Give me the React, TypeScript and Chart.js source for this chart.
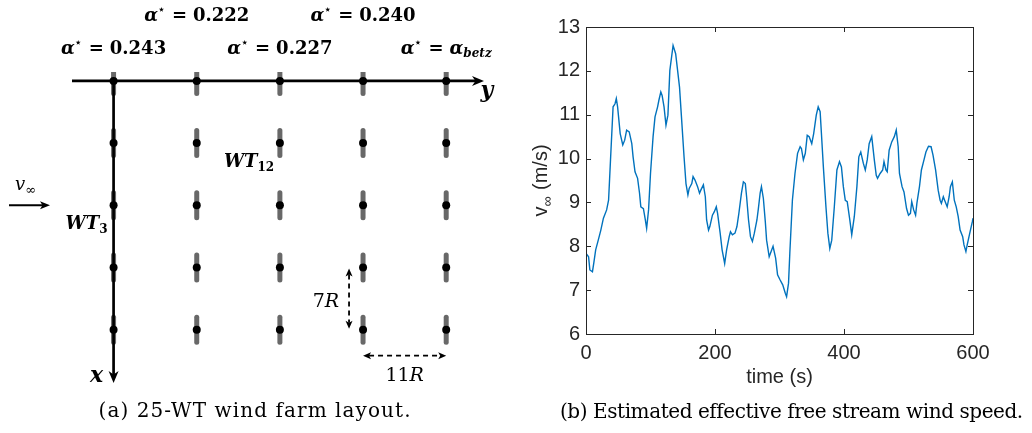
import React, { useEffect, useRef } from "react";
import { Chart, registerables } from "chart.js";

Chart.register(...registerables);

// ---------- data: wind farm layout (positions in rotor radii R) ----------
const LATERAL = [0, 11, 22, 33, 44]; // y direction (columns)
const DOWNSTREAM = [0, 7, 14, 21, 28]; // x direction (rows)
const ALPHA_VALUES = ["0.243", "0.222", "0.227", "0.240", "betz"];

// ---------- data: estimated effective free stream wind speed ----------
const TIME = [
  0, 4, 6, 10, 12, 15, 19, 23, 27, 32, 35, 38, 42, 45, 47, 49, 53, 57, 60, 63,
  67, 71, 73, 76, 80, 83, 85, 89, 92, 94, 97, 100, 104, 107, 111, 113, 116, 118,
  121, 124, 127, 130, 135, 139, 142, 145, 148, 152, 155, 158, 160, 164, 166, 169,
  173, 176, 178, 182, 185, 187, 190, 192, 196, 199, 202, 204, 208, 211, 215, 218,
  222, 224, 227, 231, 234, 237, 241, 244, 247, 249, 252, 255, 258, 261, 265, 267,
  270, 272, 275, 278, 280, 284, 287, 290, 294, 297, 301, 305, 309, 311, 314, 316,
  320, 324, 328, 332, 334, 337, 340, 343, 346, 350, 353, 357, 360, 363, 365, 368,
  372, 375, 378, 381, 385, 389, 393, 396, 399, 402, 405, 409, 412, 416, 420, 423,
  426, 430, 433, 436, 439, 443, 447, 450, 452, 456, 460, 462, 465, 467, 470, 474,
  478, 481, 484, 486, 490, 493, 497, 500, 503, 505, 508, 511, 513, 517, 520, 524,
  527, 531, 535, 538, 542, 546, 549, 551, 554, 556, 560, 563, 565, 568, 571, 574,
  577, 580, 584, 586, 589, 591, 595, 599, 600,
];
const SPEED = [
  7.84, 7.76, 7.46, 7.42, 7.61, 7.92, 8.14, 8.37, 8.64, 8.83, 9.05, 9.97, 11.18,
  11.25, 11.37, 11.18, 10.57, 10.31, 10.42, 10.65, 10.61, 10.34, 10.04, 9.7, 9.55,
  9.21, 8.9, 8.86, 8.6, 8.41, 8.83, 9.66, 10.5, 10.95, 11.18, 11.33, 11.52, 11.44,
  11.18, 10.76, 10.99, 12.01, 12.58, 12.39, 12.01, 11.63, 10.95, 10.04, 9.43, 9.17,
  9.32, 9.43, 9.59, 9.51, 9.36, 9.21, 9.28, 9.4, 9.13, 8.6, 8.37, 8.45, 8.71, 8.79,
  8.9, 8.75, 8.3, 7.92, 7.61, 7.92, 8.22, 8.33, 8.26, 8.3, 8.45, 8.75, 9.21, 9.47,
  9.43, 9.13, 8.6, 8.22, 8.11, 8.3, 8.6, 8.83, 9.21, 9.36, 9.09, 8.56, 8.14, 7.76,
  7.88, 8.0, 7.73, 7.35, 7.23, 7.12, 6.93, 6.85, 7.16, 7.84, 9.05, 9.66, 10.12,
  10.27, 10.23, 9.97, 10.12, 10.53, 10.5, 10.34, 10.57, 10.99, 11.18, 11.07, 10.57,
  9.81, 8.9, 8.3, 7.95, 8.14, 8.9, 9.74, 9.93, 9.81, 9.36, 9.05, 9.02, 8.6, 8.26,
  8.68, 9.36, 10.04, 10.15, 9.89, 9.74, 9.97, 10.34, 10.5, 9.97, 9.62, 9.55, 9.66,
  9.74, 9.93, 9.74, 9.7, 10.19, 10.38, 10.5, 10.65, 10.27, 9.66, 9.36, 9.24, 8.86,
  8.71, 8.75, 9.02, 8.83, 8.71, 8.98, 9.36, 9.74, 9.97, 10.15, 10.28, 10.27, 10.08,
  9.74, 9.28, 9.05, 8.98, 9.13, 9.05, 8.9, 9.13, 9.36, 9.47, 9.05, 8.9, 8.68, 8.37,
  8.22, 8.03, 7.88, 8.03, 8.3, 8.56, 8.64,
];
const X_TICKS = [0, 200, 400, 600];
const Y_TICKS = [6, 7, 8, 9, 10, 11, 12, 13];

// ---------- helpers ----------
type Run = { t: string; f: string; dy?: number; gap?: number };

function drawRuns(
  ctx: CanvasRenderingContext2D,
  runs: Run[],
  x: number,
  y: number,
  align: "left" | "center" | "right"
) {
  ctx.textAlign = "left";
  ctx.textBaseline = "alphabetic";
  let w = 0;
  const ws: number[] = [];
  for (const r of runs) {
    ctx.font = r.f;
    const m = ctx.measureText(r.t).width;
    ws.push(m);
    w += m + (r.gap || 0);
  }
  let cx = align === "center" ? x - w / 2 : align === "right" ? x - w : x;
  runs.forEach((r, i) => {
    ctx.font = r.f;
    ctx.fillText(r.t, cx, y + (r.dy || 0));
    cx += ws[i] + (r.gap || 0);
  });
}

function arrowHead(
  ctx: CanvasRenderingContext2D,
  tipX: number,
  tipY: number,
  dx: number,
  dy: number,
  len: number,
  halfW: number,
  inset: number
) {
  const px = -dy;
  const py = dx;
  const bx = tipX - dx * len;
  const by = tipY - dy * len;
  ctx.beginPath();
  ctx.moveTo(tipX, tipY);
  ctx.lineTo(bx + px * halfW, by + py * halfW);
  ctx.lineTo(tipX - dx * (len - inset), tipY - dy * (len - inset));
  ctx.lineTo(bx - px * halfW, by - py * halfW);
  ctx.closePath();
  ctx.fill();
}

const SERIF = "'DejaVu Serif'";
const SANS = "'Liberation Sans', Arial";
const AXIS_GRAY = "#262626";

function captionText(
  ctx: CanvasRenderingContext2D,
  text: string,
  x: number,
  y: number,
  targetWidth: number
) {
  ctx.save();
  ctx.fillStyle = "#000";
  ctx.font = `20px ${SERIF}`;
  (ctx as any).letterSpacing = "0px";
  const w = ctx.measureText(text).width;
  const sp = (targetWidth - w) / text.length;
  (ctx as any).letterSpacing = `${sp.toFixed(2)}px`;
  ctx.textAlign = "left";
  ctx.textBaseline = "alphabetic";
  ctx.fillText(text, x - targetWidth / 2, y);
  ctx.restore();
}

// ---------- left panel: layout ----------
function LayoutPanel() {
  const ref = useRef<HTMLCanvasElement>(null);
  useEffect(() => {
    const canvas = ref.current!;
    const turbines = LATERAL.flatMap((l) => DOWNSTREAM.map((d) => ({ x: l, y: d })));

    const decor = {
      id: "layoutDecor",
      beforeDatasetDraw(chart: any, args: any) {
        if (args.index === 1) chart.ctx.lineCap = "round";
      },
      afterDatasetDraw(chart: any, args: any) {
        if (args.index !== 1) return;
        const ctx: CanvasRenderingContext2D = chart.ctx;
        ctx.lineCap = "butt";
        const xs = chart.scales.x;
        const ys = chart.scales.y;
        const x0 = xs.getPixelForValue(0);
        const y0 = ys.getPixelForValue(0);
        ctx.save();
        ctx.strokeStyle = "#000";
        ctx.fillStyle = "#000";
        ctx.lineWidth = 2.7;
        // horizontal (y) axis
        const hx1 = xs.getPixelForValue(xs.min);
        const hx2 = xs.getPixelForValue(xs.max);
        ctx.beginPath();
        ctx.moveTo(hx1, y0);
        ctx.lineTo(hx2 - 8, y0);
        ctx.stroke();
        arrowHead(ctx, hx2, y0, 1, 0, 12, 5, 3.5);
        // vertical (x) axis
        const vy2 = ys.getPixelForValue(ys.max);
        ctx.beginPath();
        ctx.moveTo(x0, y0 - 1.3);
        ctx.lineTo(x0, vy2 - 8);
        ctx.stroke();
        arrowHead(ctx, x0, vy2, 0, 1, 12, 5, 3.5);
        ctx.restore();
      },
      afterDraw(chart: any) {
        const ctx: CanvasRenderingContext2D = chart.ctx;
        const xs = chart.scales.x;
        const ys = chart.scales.y;
        const px = (v: number) => xs.getPixelForValue(v);
        const py = (v: number) => ys.getPixelForValue(v);
        ctx.save();
        ctx.fillStyle = "#000";
        ctx.strokeStyle = "#000";

        // alpha labels above columns
        LATERAL.forEach((l, i) => {
          const base = i % 2 === 0 ? 54 : 21;
          const val = ALPHA_VALUES[i];
          const runs: Run[] = [
            { t: "α", f: `bold italic 18px ${SERIF}` },
            { t: "⋆", f: `bold 11px 'DejaVu Sans'`, dy: -8, gap: 7 },
            { t: "=", f: `bold 18px ${SERIF}`, gap: 6 },
          ];
          if (val === "betz") {
            runs.push({ t: "α", f: `bold italic 18px ${SERIF}` });
            runs.push({ t: "betz", f: `bold italic 12px ${SERIF}`, dy: 3 });
          } else {
            runs.push({ t: val, f: `bold 18px ${SERIF}` });
          }
          drawRuns(ctx, runs, px(l), base, "center");
        });

        // axis names
        drawRuns(ctx, [{ t: "y", f: `bold italic 22px ${SERIF}` }], px(xs.max) + 3, py(0) + 16, "center");
        drawRuns(ctx, [{ t: "x", f: `bold italic 22px ${SERIF}` }], px(0) - 17, py(ys.max) - 1, "center");

        // turbine labels
        drawRuns(
          ctx,
          [
            { t: "WT", f: `bold italic 18px ${SERIF}` },
            { t: "12", f: `bold 12px ${SERIF}`, dy: 4 },
          ],
          px(LATERAL[2]) - 56,
          py(DOWNSTREAM[1]) + 24,
          "left"
        );
        drawRuns(
          ctx,
          [
            { t: "WT", f: `bold italic 18px ${SERIF}` },
            { t: "3", f: `bold 12px ${SERIF}`, dy: 4 },
          ],
          px(0) - 6,
          py(DOWNSTREAM[2]) + 24,
          "right"
        );

        // free stream arrow
        const ay = py(DOWNSTREAM[2]);
        ctx.lineWidth = 2;
        ctx.beginPath();
        ctx.moveTo(9, ay);
        ctx.lineTo(44, ay);
        ctx.stroke();
        arrowHead(ctx, 50, ay, 1, 0, 10, 4, 2.5);
        drawRuns(
          ctx,
          [
            { t: "v", f: `italic 18px ${SERIF}` },
            { t: "∞", f: `13px ${SERIF}`, dy: 4 },
          ],
          15,
          ay - 15,
          "left"
        );

        // dimension arrows
        ctx.lineWidth = 1.8;
        ctx.setLineDash([5, 4]);
        const dvx = px(LATERAL[3]) - 14;
        const dy1 = py(DOWNSTREAM[3]) + 1;
        const dy2 = py(DOWNSTREAM[4]) - 1;
        ctx.beginPath();
        ctx.moveTo(dvx, dy1 + 6);
        ctx.lineTo(dvx, dy2 - 6);
        ctx.stroke();
        const dhy = py(DOWNSTREAM[4]) + 26;
        const dx1 = px(LATERAL[3]);
        const dx2 = px(LATERAL[4]);
        ctx.beginPath();
        ctx.moveTo(dx1 + 6, dhy);
        ctx.lineTo(dx2 - 6, dhy);
        ctx.stroke();
        ctx.setLineDash([]);
        arrowHead(ctx, dvx, dy1, 0, -1, 8, 3.5, 2);
        arrowHead(ctx, dvx, dy2, 0, 1, 8, 3.5, 2);
        arrowHead(ctx, dx1, dhy, -1, 0, 8, 3.5, 2);
        arrowHead(ctx, dx2, dhy, 1, 0, 8, 3.5, 2);
        drawRuns(
          ctx,
          [
            { t: "7", f: `19px ${SERIF}` },
            { t: "R", f: `italic 19px ${SERIF}` },
          ],
          dvx - 10,
          py(DOWNSTREAM[3]) + 40,
          "right"
        );
        drawRuns(
          ctx,
          [
            { t: "11", f: `19px ${SERIF}` },
            { t: "R", f: `italic 19px ${SERIF}` },
          ],
          (dx1 + dx2) / 2,
          dhy + 25,
          "center"
        );

        ctx.restore();
        captionText(ctx, "(a) 25-WT wind farm layout.", 255, 417, 313);
      },
    };

    const chart = new Chart(canvas, {
      type: "scatter",
      data: {
        datasets: [
          {
            data: turbines,
            pointStyle: "circle",
            pointRadius: 4,
            backgroundColor: "#000",
            borderWidth: 0,
          },
          {
            data: turbines,
            pointStyle: "line",
            pointRotation: 90,
            pointRadius: 12.5,
            borderColor: "#686868",
            backgroundColor: "#686868",
            pointBorderWidth: 5,
            borderWidth: 5,
          },
        ],
      },
      options: {
        animation: false,
        responsive: false,
        events: [],
        layout: { padding: { left: 72, right: 36, top: 72, bottom: 50 } },
        plugins: { legend: { display: false }, tooltip: { enabled: false } },
        scales: {
          x: { type: "linear", min: -5.5, max: 49, display: false },
          y: { type: "linear", min: -1, max: 34, reverse: true, display: false },
        },
      },
      plugins: [decor],
    });
    return () => chart.destroy();
  }, []);
  return (
    <canvas
      ref={ref}
      width={520}
      height={433}
      style={{ position: "absolute", left: 0, top: 0, width: 520, height: 433 }}
    />
  );
}

// ---------- right panel: wind speed ----------
function SpeedPanel() {
  const ref = useRef<HTMLCanvasElement>(null);
  useEffect(() => {
    const canvas = ref.current!;
    const points = TIME.map((t, i) => ({ x: t, y: SPEED[i] }));

    const decor = {
      id: "speedDecor",
      afterDraw(chart: any) {
        const ctx: CanvasRenderingContext2D = chart.ctx;
        const a = chart.chartArea;
        const xs = chart.scales.x;
        const ys = chart.scales.y;
        ctx.save();
        ctx.strokeStyle = AXIS_GRAY;
        ctx.lineWidth = 1;
        ctx.strokeRect(Math.round(a.left) + 0.5, Math.round(a.top) + 0.5, Math.round(a.right - a.left), Math.round(a.bottom - a.top));
        ctx.beginPath();
        const tl = 5;
        for (const t of xs.ticks) {
          const x = Math.round(xs.getPixelForValue(t.value)) + 0.5;
          ctx.moveTo(x, a.bottom);
          ctx.lineTo(x, a.bottom - tl);
          ctx.moveTo(x, a.top);
          ctx.lineTo(x, a.top + tl);
        }
        for (const t of ys.ticks) {
          const y = Math.round(ys.getPixelForValue(t.value)) + 0.5;
          ctx.moveTo(a.left, y);
          ctx.lineTo(a.left + tl, y);
          ctx.moveTo(a.right, y);
          ctx.lineTo(a.right - tl, y);
        }
        ctx.stroke();

        // y-axis label  v_inf (m/s)
        ctx.fillStyle = AXIS_GRAY;
        ctx.translate(27, (a.top + a.bottom) / 2);
        ctx.rotate(-Math.PI / 2);
        drawRuns(
          ctx,
          [
            { t: "v", f: `20px ${SANS}` },
            { t: "∞", f: `14px ${SANS}`, dy: 5, gap: 1 },
            { t: " (m/s)", f: `20px ${SANS}` },
          ],
          0,
          0,
          "center"
        );
        ctx.restore();
        captionText(ctx, "(b) Estimated effective free stream wind speed.", 271, 418, 462);
      },
    };

    const chart = new Chart(canvas, {
      type: "line",
      data: {
        datasets: [
          {
            data: points,
            borderColor: "#0072BD",
            borderWidth: 1.4,
            pointRadius: 0,
            tension: 0,
            fill: false,
          },
        ],
      },
      options: {
        animation: false,
        responsive: false,
        events: [],
        layout: { padding: { left: 0, right: 59, top: 27, bottom: 39 } },
        plugins: { legend: { display: false }, tooltip: { enabled: false } },
        scales: {
          x: {
            type: "linear",
            min: 0,
            max: 600,
            afterBuildTicks: (s: any) => {
              s.ticks = X_TICKS.map((v) => ({ value: v }));
            },
            afterFit: (s: any) => {
              s.height = 60;
            },
            grid: { display: false, drawTicks: false },
            border: { display: false },
            ticks: {
              padding: 7,
              color: AXIS_GRAY,
              font: { family: SANS, size: 20 },
              maxRotation: 0,
            },
            title: {
              display: true,
              text: "time (s)",
              color: AXIS_GRAY,
              font: { family: SANS, size: 20 },
              padding: { top: 4, bottom: 5 },
            },
          },
          y: {
            type: "linear",
            min: 6,
            max: 13,
            afterBuildTicks: (s: any) => {
              s.ticks = Y_TICKS.map((v) => ({ value: v }));
            },
            afterFit: (s: any) => {
              s.width = 66;
            },
            grid: { display: false, drawTicks: false },
            border: { display: false },
            ticks: {
              padding: 6,
              color: AXIS_GRAY,
              font: { family: SANS, size: 20 },
            },
          },
        },
      },
      plugins: [decor],
    });
    return () => chart.destroy();
  }, []);
  return (
    <canvas
      ref={ref}
      width={512}
      height={433}
      style={{ position: "absolute", left: 520, top: 0, width: 512, height: 433 }}
    />
  );
}

export default function App() {
  return (
    <div
      style={{
        position: "fixed",
        left: 0,
        top: 0,
        width: 1032,
        height: 433,
        background: "#fff",
        overflow: "hidden",
      }}
    >
      <LayoutPanel />
      <SpeedPanel />
    </div>
  );
}
